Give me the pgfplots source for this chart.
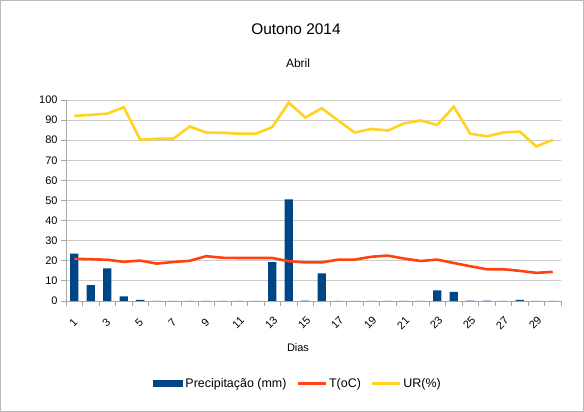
\documentclass[border=0pt]{standalone}
\usepackage{fontspec}
\setmainfont{Liberation Sans}
\usepackage{pgfplots}
\usepackage{pgfplotstable}
\pgfplotsset{compat=1.18}
\definecolor{prec}{HTML}{004586}
\definecolor{temp}{HTML}{FF420E}
\definecolor{ur}{HTML}{FFD320}
\pgfplotstableread{
dia prec temp ur
1 23.6 21.0 92.1
2 7.9 20.8 92.6
3 16.2 20.5 93.2
4 2.3 19.5 96.4
5 0.6 20.1 80.2
6 0 18.6 80.7
7 0 19.4 80.7
8 0 20.0 86.8
9 0 22.3 83.8
10 0 21.5 83.7
11 0 21.4 83.2
12 0 21.4 83.2
13 19.3 21.4 86.5
14 50.5 19.8 98.7
15 0.2 19.2 91.3
16 13.8 19.2 95.9
17 0 20.6 89.8
18 0 20.6 83.8
19 0 22.0 85.6
20 0 22.6 84.8
21 0 21.1 88.4
22 0 19.9 89.8
23 5.3 20.6 87.6
24 4.5 18.9 96.7
25 0.2 17.3 83.2
26 0.2 15.8 81.9
27 0 15.8 83.8
28 0.6 15.0 84.3
29 0 14.0 76.9
30 0 14.5 80.2
}\data
\begin{document}
\begin{tikzpicture}
\draw[gray!55, line width=0.8bp] (0.4bp,0.4bp) rectangle (583.6bp,411.6bp);
\node[font=\fontsize{15.5}{17}\selectfont] at (296bp,383bp) {Outono 2014};
\node[font=\fontsize{12}{14}\selectfont] at (298bp,349bp) {Abril};
\node[font=\fontsize{11}{13}\selectfont] at (298bp,64bp) {Dias};
\begin{axis}[
  at={(66bp,111bp)}, anchor=south west,
  scale only axis, width=495bp, height=201bp,
  xmin=0.5, xmax=30.5, ymin=0, ymax=100,
  ytick={0,10,...,100},
  xtick={1,3,...,29},
  minor xtick={0.5,1.5,...,30.5},
  major x tick style={draw=none},
  axis x line*=bottom, axis y line*=left,
  axis line style={draw=gray!70, line width=0.8bp, -},
  tick style={draw=gray!70, line width=0.8bp},
  tick align=outside,
  major tick length=5bp, minor tick length=5bp,
  ymajorgrids, grid style={draw=gray!40, line width=0.8bp},
  /pgf/number format/assume math mode=true,
  ticklabel style={font=\fontsize{11}{13}\selectfont},
  x tick label style={yshift=-17bp, xshift=-1bp, rotate=45, anchor=center},
  legend style={at={(0.469,-0.41)}, anchor=center, draw=none, fill=none,
    legend columns=3, font=\fontsize{12.5}{14}\selectfont,
    /tikz/every even column/.append style={column sep=8bp}},
  clip=false,
]
\addplot[ybar, bar width=8.3bp, fill=prec, draw=none,
  legend image code/.code={\fill[prec] (0bp,-3.5bp) rectangle (30bp,3.5bp);}]
  table[x=dia, y=prec] {\data};
\addlegendentry{Precipitação (mm)}
\addplot[temp, line width=2.6bp, no marks,
  legend image code/.code={\draw[temp, line width=2.6bp] (0bp,0bp) -- (28bp,0bp);}]
  table[x=dia, y=temp] {\data};
\addlegendentry{T(oC)}
\addplot[ur, line width=2.6bp, no marks,
  legend image code/.code={\draw[ur, line width=2.6bp] (0bp,0bp) -- (28bp,0bp);}]
  table[x=dia, y=ur] {\data};
\addlegendentry{UR(\%)}
\end{axis}
\end{tikzpicture}
\end{document}
